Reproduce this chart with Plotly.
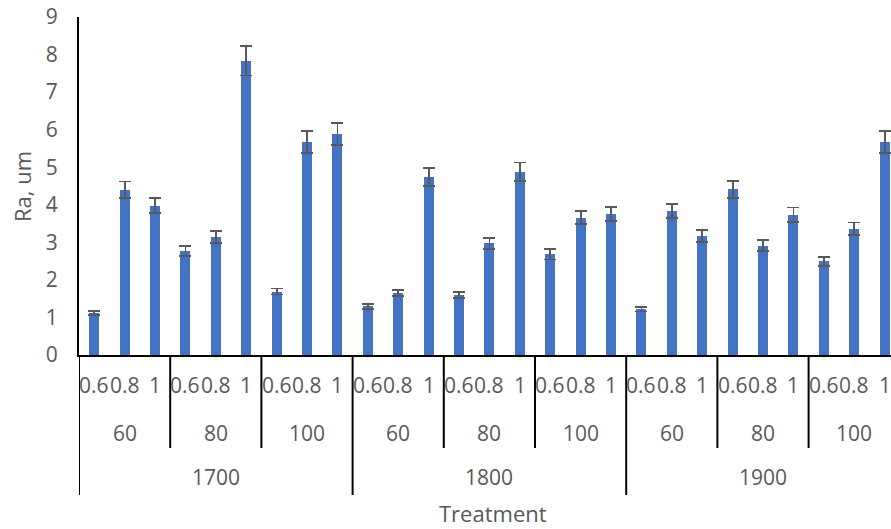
import itertools
import plotly.graph_objects as go

# ---------------- data ----------------
temps = ["1700", "1800", "1900"]          # level 3 (outer)
speeds = ["60", "80", "100"]              # level 2
feeds = ["0.6", "0.8", "1"]               # level 1 (inner)

ra_mean = [1.12, 4.40, 3.98, 2.77, 3.14, 7.83, 1.69, 5.67, 5.88,
           1.30, 1.65, 4.75, 1.60, 2.97, 4.88, 2.68, 3.66, 3.76,
           1.22, 3.83, 3.17, 4.41, 2.91, 3.74, 2.49, 3.36, 5.67]
ra_err = [0.06, 0.22, 0.19, 0.14, 0.16, 0.39, 0.08, 0.29, 0.29,
          0.065, 0.08, 0.24, 0.075, 0.15, 0.245, 0.135, 0.18, 0.19,
          0.06, 0.19, 0.16, 0.22, 0.145, 0.19, 0.12, 0.17, 0.29]

y_title = "Ra, um"
x_title = "Treatment"

# ---------------- layout constants ----------------
W, H = 891, 529
ML, MR, MT, MB = 79, 0, 17, 174
PLOT_H = H - MT - MB
PLOT_W = W - ML - MR
CAT_PX = 30.4                      # pixel width of one category slot
TXT = "#595959"
FONT = "Open Sans"

combos = list(itertools.product(temps, speeds, feeds))
xs = list(range(len(combos)))
n_f, n_s = len(feeds), len(speeds)


def py(px):
    """pixel row -> paper y"""
    return (H - MB - px) / PLOT_H


def pxx(px):
    """pixel column -> paper x"""
    return (px - ML) / PLOT_W


fig = go.Figure(
    go.Bar(
        x=xs,
        y=ra_mean,
        width=0.33,
        marker=dict(color="#4472C4", line=dict(width=0)),
        error_y=dict(type="data", array=ra_err, visible=True,
                     color=TXT, thickness=1.8, width=6),
    )
)

annotations = []
shapes = []

# level 1 labels
for i, c in enumerate(combos):
    annotations.append(dict(x=i, y=py(385), xref="x", yref="paper", text=c[2],
                            showarrow=False, xanchor="center", yanchor="middle",
                            font=dict(family=FONT, size=21, color=TXT)))
# level 2 labels + separators
n_sub = len(temps) * n_s
for j in range(n_sub):
    annotations.append(dict(x=j * n_f + (n_f - 1) / 2, y=py(433), xref="x", yref="paper",
                            text=speeds[j % n_s], showarrow=False,
                            xanchor="center", yanchor="middle",
                            font=dict(family=FONT, size=21, color=TXT)))
    if j % n_s != 0:
        xb = j * n_f - 0.5
        shapes.append(dict(type="line", xref="x", yref="paper", x0=xb, x1=xb,
                           y0=0, y1=py(448), line=dict(color="#000000", width=2)))
# level 3 labels + separators
grp = n_s * n_f
for k, t in enumerate(temps):
    annotations.append(dict(x=k * grp + (grp - 1) / 2, y=py(477.5), xref="x", yref="paper",
                            text=t, showarrow=False, xanchor="center", yanchor="middle",
                            font=dict(family=FONT, size=21, color=TXT)))
    xb = k * grp - 0.5
    shapes.append(dict(type="line", xref="x", yref="paper", x0=xb, x1=xb,
                       y0=0, y1=py(495), line=dict(color="#000000", width=2)))

# axis titles
annotations.append(dict(x=pxx(493), y=py(513), xref="paper", yref="paper", text=x_title,
                        showarrow=False, xanchor="center", yanchor="middle",
                        font=dict(family=FONT, size=22, color=TXT)))
annotations.append(dict(x=pxx(22), y=py(187), xref="paper", yref="paper", text=y_title,
                        showarrow=False, xanchor="center", yanchor="middle", textangle=-90,
                        font=dict(family=FONT, size=22, color=TXT)))

fig.update_layout(
    width=W, height=H,
    margin=dict(l=ML, r=MR, t=MT, b=MB, pad=0),
    paper_bgcolor="white", plot_bgcolor="white",
    showlegend=False,
    bargap=0,
    xaxis=dict(range=[-0.5, -0.5 + PLOT_W / CAT_PX], showticklabels=False,
               showgrid=False, zeroline=False, showline=True,
               linecolor="#000000", linewidth=2, ticks=""),
    yaxis=dict(range=[0, 9], dtick=1, tick0=0, showgrid=False, zeroline=False,
               showline=True, linecolor="#000000", linewidth=2, ticks="",
               ticklabelstandoff=15, ticklabeloverflow="allow",
               tickfont=dict(family=FONT, size=21, color=TXT)),
    annotations=annotations,
    shapes=shapes,
)

fig.write_html("out.html",
               config={"displayModeBar": False},
               post_script="document.body.style.margin='0';document.body.style.overflow='hidden';")
